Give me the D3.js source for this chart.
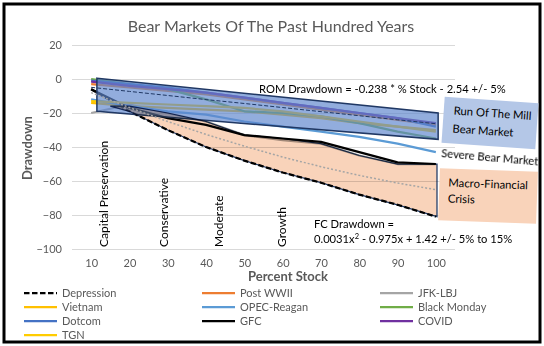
<!DOCTYPE html>
<html>
<head>
<meta charset="utf-8">
<script src="https://cdn.jsdelivr.net/npm/d3@7"></script>
<style>
  body { margin: 0; background: #fff; }
  svg { font-family: Lato, "Open Sans", sans-serif; }
</style>
</head>
<body>
<div class="chart"></div>
<script>
// percent stock categories
const pcts = [10, 20, 30, 40, 50, 60, 70, 80, 90, 100];
const yTicks = [20, 0, -20, -40, -60, -80, -100];

// drawdowns (%)
const depression = [-6, -19, -30, -40, -48, -55, -61, -68, -74, -81];
const postWWII = [-3, -5, -7, -9, -12, -15, -18, -21, -24, -27];
const jfkLbj = [-20, -15, -20, -25, -33, -36, -38, -45, -50, -50];
const vietnam = [-14, -16, -17, -18, -19, -21, -23, -26, -28, -30];
const opecReagan = [-12, -16, -19, -21, -25, -28, -31, -34, -38, -43];
const blackMonday = [0, -3, -6, -12, -19, -20, -22, -26, -31, -35];
const dotcom = [-1, -3, -5, -8, -11, -14, -17, -20, -23, -28];
const gfc = [-6, -17, -23, -27, -33, -35, -37, -43, -49, -50];
const covid = [-1.5, -4, -6, -8, -11, -14, -17, -20, -23, -26];
const tgn = [-13, -14, -15, -16, -17, -19, -22, -25, -28, -31];

// fitted lines as drawn
const romFit = [-4.9, -7.3, -9.7, -12.1, -14.4, -16.8, -19.2, -21.6, -24.0, -26.3];
const fcFit = [-8.0, -16.8, -25.0, -32.6, -39.5, -45.9, -51.6, -56.7, -61.2, -65.1];

// hand drawn regions
const romBandX = [11.5, 100.6, 100.6, 11.5];
const romBandY = [0.5, -20, -35.5, -19];
const fcBandX = [15, 20, 30, 40, 50, 60, 70, 80, 90, 100.3];
const fcBandTop = [-16, -16, -20, -25, -33, -35, -38, -45, -50, -50];
const fcBandBottom = [-16, -19, -30, -40, -48, -55, -61, -68, -74, -81];

const seriesNames = ['Depression', 'Post WWII', 'JFK-LBJ', 'Vietnam', 'OPEC-Reagan',
  'Black Monday', 'Dotcom', 'GFC', 'COVID', 'TGN'];
const seriesValues = [depression, postWWII, jfkLbj, vietnam, opecReagan,
  blackMonday, dotcom, gfc, covid, tgn];
const seriesColors = ['#000000', '#ED7D31', '#A5A5A5', '#FFC000', '#5B9BD5',
  '#70AD47', '#4472C4', '#000000', '#7030A0', '#FFCC00'];

const width = 544;
const height = 346;
const svg = d3.select('.chart').append('svg')
  .attr('width', width)
  .attr('height', height);

svg.append('rect')
  .attr('x', 4).attr('y', 4)
  .attr('width', 536).attr('height', 338)
  .attr('fill', '#fff')
  .attr('stroke', '#000')
  .attr('stroke-width', 3);

const x = d3.scaleLinear().domain([5, 105]).range([72, 455]);
const y = d3.scaleLinear().domain([-100, 20]).range([249, 45]);

// title
svg.append('text')
  .attr('x', 271).attr('y', 32)
  .attr('text-anchor', 'middle')
  .attr('fill', '#595959')
  .style('font-size', '16px')
  .text('Bear Markets Of The Past Hundred Years');

// gridlines
svg.append('g')
  .attr('transform', `translate(${x(5)},0)`)
  .call(d3.axisLeft(y).tickValues(yTicks).tickSize(-(x(105) - x(5))).tickFormat(''))
  .call(g => g.select('.domain').remove())
  .call(g => g.selectAll('line').attr('stroke', '#D9D9D9'));

// y tick labels
svg.append('g')
  .attr('transform', `translate(${x(5) - 6},0)`)
  .call(d3.axisLeft(y).tickValues(yTicks).tickSize(0).tickPadding(4))
  .call(g => g.select('.domain').remove())
  .call(g => g.selectAll('text').attr('fill', '#595959').style('font-size', '11px')
    .style('font-family', 'Lato, sans-serif'));

// x tick labels
svg.append('g')
  .attr('transform', `translate(0,${y(-100)})`)
  .call(d3.axisBottom(x).tickValues(pcts).tickSize(0).tickPadding(10))
  .call(g => g.select('.domain').remove())
  .call(g => g.selectAll('text').attr('fill', '#595959').style('font-size', '11px')
    .style('font-family', 'Lato, sans-serif'));

// axis titles
svg.append('text')
  .attr('x', 288).attr('y', 281)
  .attr('text-anchor', 'middle')
  .attr('fill', '#595959')
  .style('font-size', '13px')
  .style('font-weight', 'bold')
  .text('Percent Stock');

svg.append('text')
  .attr('transform', 'translate(32,148) rotate(-90)')
  .attr('text-anchor', 'middle')
  .attr('fill', '#595959')
  .style('font-size', '13px')
  .style('font-weight', 'bold')
  .text('Drawdown');

// allocation labels
const allocNames = ['Capital Preservation', 'Conservative', 'Moderate', 'Growth'];
const allocAt = [13.2, 28.9, 43.2, 59.7];
svg.append('g').selectAll('text')
  .data(allocNames)
  .enter()
  .append('text')
  .attr('transform', (d, i) => `translate(${x(allocAt[i])},${y(-98.8)}) rotate(-90)`)
  .attr('dominant-baseline', 'central')
  .attr('fill', '#000')
  .style('font-size', '12px')
  .text(d => d);

// series
const line = d3.line()
  .x((d, i) => x(pcts[i]))
  .y(d => y(d));

svg.append('g').selectAll('path')
  .data(seriesValues)
  .enter()
  .append('path')
  .attr('d', d => line(d))
  .attr('fill', 'none')
  .attr('stroke', (d, i) => seriesColors[i])
  .attr('stroke-width', 2.25)
  .attr('stroke-dasharray', (d, i) => i === 0 ? '5.5,2.5' : null)
  .attr('stroke-linejoin', 'round');

// run of the mill band (semi transparent, lines show through)
svg.append('path')
  .attr('d', d3.line().x(d => x(d[0])).y(d => y(d[1]))(romBandX.map((v, i) => [v, romBandY[i]])) + 'Z')
  .attr('fill', '#5F86CD')
  .attr('fill-opacity', 0.68)
  .attr('stroke', '#203864')
  .attr('stroke-width', 1.5);

// macro-financial band
const band = d3.area()
  .x((d, i) => x(fcBandX[i]))
  .y0((d, i) => y(fcBandBottom[i]))
  .y1(d => y(d));
svg.append('path')
  .attr('d', band(fcBandTop))
  .attr('fill', '#F9D3BA')
  .attr('stroke', '#1F3864')
  .attr('stroke-width', 1.25)
  .style('mix-blend-mode', 'multiply');

// fit lines
svg.append('path')
  .attr('d', line(romFit))
  .attr('fill', 'none')
  .attr('stroke', '#203864')
  .attr('stroke-width', 1)
  .attr('stroke-dasharray', '4,2');

svg.append('path')
  .attr('d', line(fcFit))
  .attr('fill', 'none')
  .attr('stroke', '#A5A5A5')
  .attr('stroke-width', 1.5)
  .attr('stroke-dasharray', '2,2');

// annotations
const note = (tx, ty, txt) => svg.append('text')
  .attr('x', tx).attr('y', ty)
  .attr('fill', '#000')
  .style('font-size', '11.2px')
  .text(txt);

note(259, 93, 'ROM Drawdown = -0.238 * % Stock - 2.54 +/- 5%');
note(314, 228, 'FC Drawdown =');
const fcText = note(314, 243, '0.0031x');
fcText.append('tspan').attr('dy', -4).style('font-size', '7.5px').text('2');
fcText.append('tspan').attr('dy', 4).text(' - 0.975x + 1.42 +/- 5% to 15%');

const rom = svg.append('g').attr('transform', 'translate(490,123) rotate(4)');
rom.append('rect')
  .attr('x', -47).attr('y', -23)
  .attr('width', 94).attr('height', 46)
  .attr('fill', '#B4C7E7');
rom.append('text').attr('x', -37).attr('y', -6).style('font-size', '11.3px').text('Run Of The Mill');
rom.append('text').attr('x', -37).attr('y', 12).style('font-size', '11.3px').text('Bear Market');

svg.append('text')
  .attr('transform', 'translate(441,157) rotate(5)')
  .style('font-size', '11.3px')
  .text('Severe Bear Market');

const fc = svg.append('g').attr('transform', 'translate(488,196) rotate(2)');
fc.append('rect')
  .attr('x', -49).attr('y', -26)
  .attr('width', 98).attr('height', 52)
  .attr('fill', '#F9D3BA');
fc.append('text').attr('x', -40).attr('y', -8).style('font-size', '11.3px').text('Macro-Financial');
fc.append('text').attr('x', -40).attr('y', 8).style('font-size', '11.3px').text('Crisis');

// legend
const legend = svg.append('g').selectAll('g')
  .data(seriesNames)
  .enter()
  .append('g')
  .attr('transform', (d, i) => `translate(${[24, 202, 380][i % 3]},${293 + Math.floor(i / 3) * 14})`);

legend.append('line')
  .attr('x1', 0).attr('x2', 33)
  .attr('stroke', (d, i) => seriesColors[i])
  .attr('stroke-width', 2.25)
  .attr('stroke-dasharray', (d, i) => i === 0 ? '5.5,2.5' : null);

legend.append('text')
  .attr('x', 38)
  .attr('dy', '0.35em')
  .attr('fill', '#595959')
  .style('font-size', '11px')
  .text(d => d);
</script>
</body>
</html>
